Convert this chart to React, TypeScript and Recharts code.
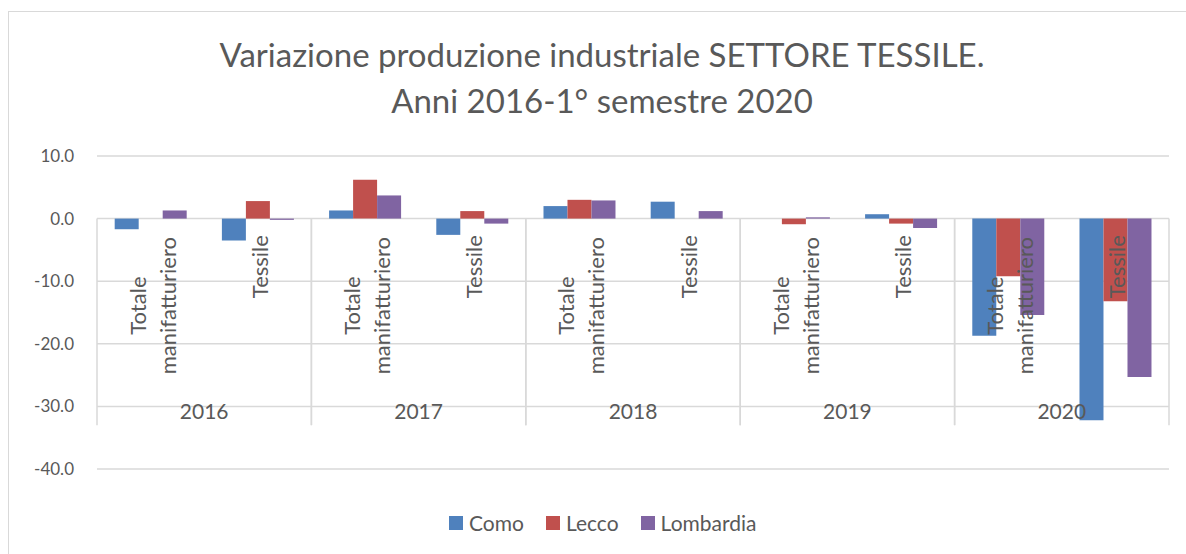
import React from 'react';
import { BarChart, Bar, XAxis, YAxis, CartesianGrid, Legend, ReferenceDot, ReferenceArea } from 'recharts';

const years = ['2016', '2017', '2018', '2019', '2020'];
const sectors = ['Totale manifatturiero', 'Tessile'];

// one value per (year, sector), in year order
const como = [-1.7, -3.5, 1.3, -2.6, 2.0, 2.7, 0.0, 0.7, -18.7, -32.2];
const lecco = [0.0, 2.8, 6.2, 1.2, 3.0, 0.0, -0.9, -0.8, -9.2, -13.2];
const lombardia = [1.3, -0.2, 3.7, -0.8, 2.9, 1.2, 0.2, -1.5, -15.4, -25.3];

const yTicks = [-40, -30, -20, -10, 0, 10];

const data = years.flatMap((year, i) =>
    sectors.map((sector, j) => ({
        key: `${year} ${sector}`,
        year,
        sector,
        Como: como[i * 2 + j],
        Lecco: lecco[i * 2 + j],
        Lombardia: lombardia[i * 2 + j],
    }))
);

const TEXT = '#595959';
const GRID = '#d9d9d9';
const FONT = 'Lato, "Open Sans", sans-serif';

const sectorLabel = (label: string) => (props: any) => {
    const { cx, cy } = props;
    const lines = label.split(' ');
    if (lines.length === 1) {
        const x = cx + 1.5;
        const y = cy + 16.5;
        return (
            <text x={x} y={y} transform={`rotate(-90 ${x} ${y})`} textAnchor="end" dominantBaseline="central"
                fill={TEXT} fontSize={22} fontFamily={FONT}>{label}</text>
        );
    }
    return (
        <g>
            {lines.map((line, k) => {
                const x = cx + 1.5 + (k === 0 ? -15 : 15);
                const y = cy + 87;
                return (
                    <text key={k} x={x} y={y} transform={`rotate(-90 ${x} ${y})`} textAnchor="middle"
                        dominantBaseline="central" fill={TEXT} fontSize={22} fontFamily={FONT}>{line}</text>
                );
            })}
        </g>
    );
};

const yearLabel = (label: string) => (props: any) => (
    <text x={props.cx} y={props.cy + 4} textAnchor="middle" dominantBaseline="central"
        fill={TEXT} fontSize={21} fontFamily={FONT}>{label}</text>
);

const separators = (props: any) => {
    const { x, y, width, height } = props;
    return (
        <g>
            <line x1={x} y1={y} x2={x} y2={y + height} stroke={GRID} strokeWidth={1.5} />
            <line x1={x + width} y1={y} x2={x + width} y2={y + height} stroke={GRID} strokeWidth={1.5} />
        </g>
    );
};

const renderLegend = (props: any) => (
    <div style={{ display: 'flex', alignItems: 'center', fontFamily: FONT, fontSize: 21, color: TEXT, lineHeight: '28px' }}>
        {props.payload.map((p: any) => (
            <div key={p.value} style={{ display: 'flex', alignItems: 'center', marginRight: 22 }}>
                <span style={{ width: 14, height: 14, background: p.color, marginRight: 6, display: 'inline-block' }} />
                <span>{p.value}</span>
            </div>
        ))}
    </div>
);

export default function App() {
    return (
        <div style={{ position: 'absolute', left: 0, top: 0, width: 1186, height: 554, background: '#fff', fontFamily: FONT, overflow: 'hidden' }}>
            <div style={{ position: 'absolute', left: 8, top: 11, width: 1200, height: 600, borderLeft: `1.5px solid ${GRID}`, borderTop: `1.5px solid ${GRID}` }} />
            <div style={{ position: 'absolute', left: 0, top: 31, width: 1204, textAlign: 'center', fontSize: 33, fontWeight: 400, lineHeight: '46px', color: TEXT }}>
                Variazione produzione industriale SETTORE TESSILE.<br />Anni 2016-1° semestre 2020
            </div>
            <BarChart width={1186} height={554} data={data} margin={{ top: 156, right: 17, bottom: 85, left: 0 }}
                barCategoryGap="16.5%" barGap={0} style={{ position: 'absolute', left: 0, top: 0 }}>
                <CartesianGrid vertical={false} stroke={GRID} strokeWidth={1.5} />
                <XAxis xAxisId="sub" dataKey="key" hide />
                <XAxis xAxisId="year" dataKey="year" allowDuplicatedCategory={false} hide />
                <YAxis domain={[-40, 10]} ticks={yTicks} width={97} axisLine={false} tickLine={false} tickSize={0} tickMargin={23}
                    tickFormatter={(v: number) => v.toFixed(1)} tick={{ fill: TEXT, fontSize: 17 }} />
                {years.map((y) => (
                    <ReferenceArea key={`sep-${y}`} xAxisId="year" x1={y} x2={y} y1={0} y2={-33} shape={separators} ifOverflow="visible" />
                ))}
                <Bar xAxisId="sub" dataKey="Como" fill="#4F81BD" isAnimationActive={false} />
                <Bar xAxisId="sub" dataKey="Lecco" fill="#C0504D" isAnimationActive={false} />
                <Bar xAxisId="sub" dataKey="Lombardia" fill="#8064A2" isAnimationActive={false} />
                {data.map((d) => (
                    <ReferenceDot key={`lab-${d.key}`} xAxisId="sub" x={d.key} y={0} shape={sectorLabel(d.sector)} ifOverflow="visible" />
                ))}
                {years.map((y) => (
                    <ReferenceDot key={`yr-${y}`} xAxisId="year" x={y} y={-30} shape={yearLabel(y)} ifOverflow="visible" />
                ))}
                <Legend layout="horizontal" verticalAlign="middle" align="center" content={renderLegend}
                    wrapperStyle={{ top: 509, left: 449, width: 500 }} />
            </BarChart>
        </div>
    );
}
